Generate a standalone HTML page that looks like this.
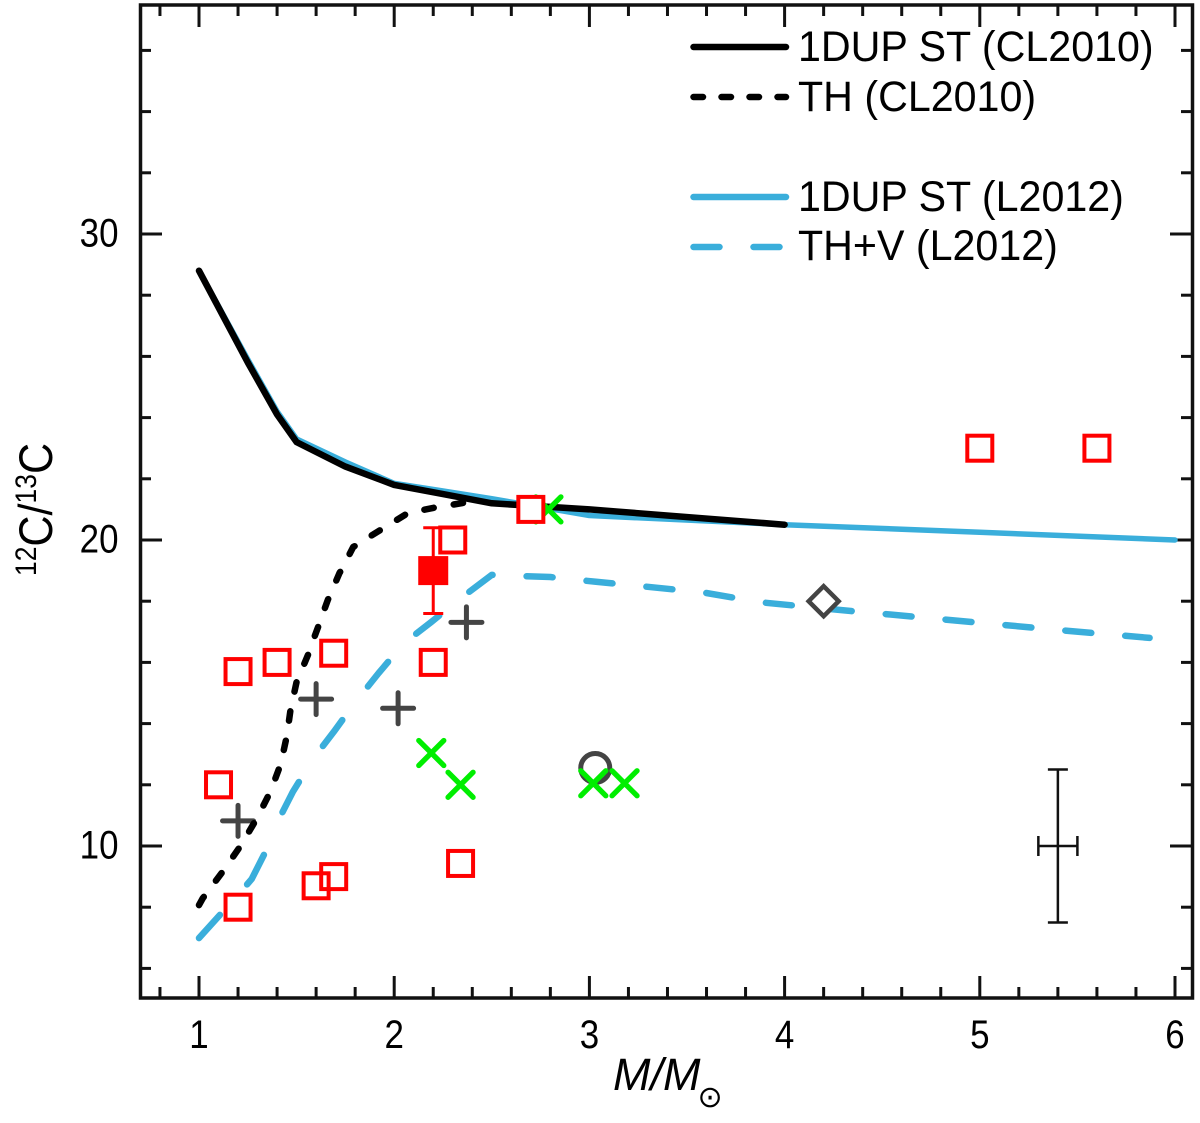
<!DOCTYPE html>
<html lang="en">
<head>
<meta charset="utf-8">
<title>12C/13C versus stellar mass</title>
<style>
html,body{margin:0;padding:0;background:#fff;width:1200px;height:1123px;overflow:hidden}
svg{display:block}
text{font-family:"Liberation Sans",sans-serif;fill:#000}
</style>
</head>
<body>
<svg id="chart" xmlns="http://www.w3.org/2000/svg" width="1200" height="1123" viewBox="0 0 1200 1123">
  <g id="ticks"></g>
  <g id="plusLayer"></g>
  <g id="series"></g>
  <g id="markers"></g>
  <rect x="140.5" y="5" width="1052" height="993" fill="none" stroke="#111" stroke-width="3.5"/>
  <g id="xlabels" font-size="36" text-anchor="middle"></g>
  <g id="ylabels" font-size="36" text-anchor="end"></g>
  <text x="613" y="1090" font-size="45" font-style="italic">M/M</text>
  <text x="697.5" y="1107" font-size="30" style="font-family:'DejaVu Sans',sans-serif">⊙</text>
  <text transform="translate(52,576) rotate(-90) scale(0.98,1.08)" font-size="44"><tspan font-size="27" dy="-15">12</tspan><tspan dy="15">C/</tspan><tspan font-size="27" dy="-15">13</tspan><tspan dy="15">C</tspan></text>
  <g>
    <line x1="693.5" y1="47" x2="786" y2="47" stroke="#000" stroke-width="6.5" stroke-linecap="round"/>
    <text transform="translate(798,61) scale(1.005,1.05)" font-size="41">1DUP ST (CL2010)</text>
    <line x1="693.5" y1="97" x2="786" y2="97" stroke="#000" stroke-width="6.5" stroke-linecap="round" stroke-dasharray="9.5 18.5"/>
    <text transform="translate(798,111) scale(1.005,1.05)" font-size="41">TH (CL2010)</text>
    <line x1="693.5" y1="197" x2="786" y2="197" stroke="#3aaedb" stroke-width="6.5" stroke-linecap="round"/>
    <text transform="translate(798,211) scale(1.005,1.05)" font-size="41">1DUP ST (L2012)</text>
    <line x1="693.5" y1="247" x2="780" y2="247" stroke="#3aaedb" stroke-width="6.5" stroke-linecap="round" stroke-dasharray="26 34"/>
    <text transform="translate(798,260) scale(1.005,1.05)" font-size="41">TH+V (L2012)</text>
  </g>
</svg>
<script>
const xTickLabels = [1, 2, 3, 4, 5, 6];
const yTickLabels = [10, 20, 30];
const xMinorTicks = [0.8, 1.2, 1.4, 1.6, 1.8, 2.2, 2.4, 2.6, 2.8, 3.2, 3.4, 3.6, 3.8, 4.2, 4.4, 4.6, 4.8, 5.2, 5.4, 5.6, 5.8];
const yMinorTicks = [6, 8, 12, 14, 16, 18, 22, 24, 26, 28, 32, 34, 36];

const st2010Mass = [1, 1.25, 1.4, 1.5, 1.75, 2, 2.25, 2.5, 3, 4];
const st2010Ratio = [28.8, 25.8, 24.1, 23.2, 22.4, 21.8, 21.5, 21.2, 21, 20.5];
const st2012Mass = [1, 1.25, 1.4, 1.5, 1.75, 2, 2.25, 2.5, 3, 4, 5, 6];
const st2012Ratio = [28.8, 25.9, 24.2, 23.3, 22.55, 21.85, 21.6, 21.35, 20.8, 20.5, 20.25, 20];
const th2010Mass = [1, 1.02, 1.12, 1.22, 1.3, 1.37, 1.42, 1.45, 1.47, 1.5, 1.56, 1.61, 1.66, 1.72, 1.79, 1.93, 2.07, 2.2, 2.35, 2.38];
const th2010Ratio = [8.07, 8.3, 9.15, 10.07, 10.95, 11.83, 12.71, 13.6, 14.5, 15.36, 16.27, 17.16, 18.04, 18.92, 19.77, 20.33, 20.88, 21.05, 21.21, 21.24];
const thv2012Mass = [1, 1.12, 1.2, 1.27, 1.34, 1.41, 1.48, 1.58, 1.69, 1.81, 1.92, 2.05, 2.19, 2.35, 2.5, 2.65, 2.8, 3.04, 3.57, 3.87, 4.34, 4.79, 5.4, 5.87];
const thv2012Ratio = [6.99, 7.84, 8.4, 8.92, 9.8, 10.88, 11.76, 12.81, 13.73, 14.77, 15.65, 16.63, 17.32, 18.14, 18.86, 18.82, 18.79, 18.63, 18.3, 17.97, 17.68, 17.42, 17.06, 16.8];

const squareMass = [1.1, 1.2, 1.4, 1.69, 2.2, 2.3, 2.7, 5, 5.6, 1.2, 1.6, 1.69, 2.34];
const squareRatio = [12, 15.7, 16, 16.3, 16, 20, 21, 23, 23, 8, 8.7, 9, 9.43];
const plusMass = [1.2, 1.6, 2.02, 2.37];
const plusRatio = [10.82, 14.8, 14.5, 17.31];
const crossMass = [2.79, 2.19, 2.34, 3.02, 3.18];
const crossRatio = [21, 13.04, 12, 12.05, 12.05];
const filledMass = [2.2];
const filledRatio = [19];
const filledErrLow = [17.6];
const filledErrHigh = [20.4];
const circleMass = [3.03];
const circleRatio = [12.55];
const diamondMass = [4.2];
const diamondRatio = [18];
const typicalMass = [5.4];
const typicalRatio = [10];
const typicalMassErr = [0.1];
const typicalRatioErr = [2.5];

const xScale = v => 199 + (v - 1) * 195.2;
const yScale = v => 846 - (v - 10) * 30.6;
const NS = 'http://www.w3.org/2000/svg';
const TOP = 5, BOTTOM = 998, LEFT = 140, RIGHT = 1192;

function mk(parent, tag, attrs) {
  const el = document.createElementNS(NS, tag);
  for (const k in attrs) el.setAttribute(k, attrs[k]);
  parent.appendChild(el);
  return el;
}
const ticks = document.getElementById('ticks');
const plusLayer = document.getElementById('plusLayer');
const seriesG = document.getElementById('series');
const markers = document.getElementById('markers');
const xlabels = document.getElementById('xlabels');
const ylabels = document.getElementById('ylabels');
const tickStyle = {stroke: '#111', 'stroke-width': 3};

function xTick(v, len) {
  const x = xScale(v);
  const a = mk(ticks, 'line', {x1: x, x2: x, y1: BOTTOM, y2: BOTTOM - len, ...tickStyle});
  
  
  const b = mk(ticks, 'line', {x1: x, x2: x, y1: TOP, y2: TOP + len, ...tickStyle});
  
  
}
function yTick(v, len) {
  const y = yScale(v);
  const a = mk(ticks, 'line', {x1: LEFT, x2: LEFT + len, y1: y, y2: y, ...tickStyle});
  
  
  const b = mk(ticks, 'line', {x1: RIGHT, x2: RIGHT - len, y1: y, y2: y, ...tickStyle});
  
  
}
xMinorTicks.forEach(v => xTick(v, 11));
yMinorTicks.forEach(v => yTick(v, 11));
xTickLabels.forEach(v => {
  xTick(v, 22);
  const t = mk(xlabels, 'text', {transform: `translate(${xScale(v)},1048) scale(0.97,1.1)`});
  
  
  t.textContent = v;
});
yTickLabels.forEach(v => {
  yTick(v, 22);
  const t = mk(ylabels, 'text', {transform: `translate(118.5,${yScale(v) + 12.5}) scale(0.97,1.1)`});
  
  
  t.textContent = v;
});

function pts(xs, ys) {
  return xs.map((x, i) => xScale(x).toFixed(1) + ',' + yScale(ys[i]).toFixed(1)).join(' ');
}
// Walks the curve and emits one sub-path per dash; vertical distance is weighted by yWeight.
function dashedPath(xs, ys, dash, gap, yWeight) {
  const P = xs.map((x, i) => [xScale(x), yScale(ys[i])]);
  let d = '', on = true, left = dash;
  d += 'M' + P[0][0].toFixed(1) + ' ' + P[0][1].toFixed(1);
  for (let i = 1; i < P.length; i++) {
    const ax = P[i - 1][0], ay = P[i - 1][1], dx = P[i][0] - ax, dy = P[i][1] - ay;
    const len = Math.hypot(dx, dy / yWeight);
    let pos = 0;
    while (len - pos > left) {
      pos += left;
      const x = (ax + dx * pos / len).toFixed(1), y = (ay + dy * pos / len).toFixed(1);
      d += (on ? 'L' : 'M') + x + ' ' + y;
      on = !on;
      left = on ? dash : gap;
    }
    left -= len - pos;
    if (on) d += 'L' + P[i][0].toFixed(1) + ' ' + P[i][1].toFixed(1);
  }
  return d;
}
const base = {fill: 'none', 'stroke-linecap': 'round', 'stroke-linejoin': 'round'};
const c1 = mk(seriesG, 'polyline', {...base, points: pts(st2012Mass, st2012Ratio), stroke: '#3aaedb', 'stroke-width': 5.5});


const c2 = mk(seriesG, 'path', {...base, d: dashedPath(thv2012Mass, thv2012Ratio, 26, 34, 1.5), stroke: '#3aaedb', 'stroke-width': 6.5});


const c3 = mk(seriesG, 'path', {...base, d: dashedPath(th2010Mass, th2010Ratio, 9.5, 20.2, 1), stroke: '#000', 'stroke-width': 6.5});


const c4 = mk(seriesG, 'polyline', {...base, points: pts(st2010Mass, st2010Ratio), stroke: '#000', 'stroke-width': 6.5});



plusMass.forEach((m, i) => {
  const x = xScale(m), y = yScale(plusRatio[i]), r = 15.5;
  const p = mk(plusLayer, 'path', {d: `M${x - r} ${y}H${x + r}M${x} ${y - r}V${y + r}`, stroke: '#444', 'stroke-width': 5, 'stroke-linecap': 'round', fill: 'none'});
  
  
});
circleMass.forEach((m, i) => {
  const c = mk(markers, 'circle', {cx: xScale(m), cy: yScale(circleRatio[i]), r: 14.5, fill: 'none', stroke: '#444', 'stroke-width': 5});
  
  
});
diamondMass.forEach((m, i) => {
  const x = xScale(m), y = yScale(diamondRatio[i]), r = 15;
  const d = mk(markers, 'path', {d: `M${x} ${y - r}L${x + r} ${y}L${x} ${y + r}L${x - r} ${y}Z`, fill: '#fff', stroke: '#444', 'stroke-width': 4.5});
  
  
});
crossMass.forEach((m, i) => {
  const x = xScale(m), y = yScale(crossRatio[i]), r = 12.5;
  const p = mk(markers, 'path', {d: `M${x - r} ${y - r}L${x + r} ${y + r}M${x + r} ${y - r}L${x - r} ${y + r}`, stroke: '#00ee00', 'stroke-width': 5.3, 'stroke-linecap': 'round', fill: 'none'});
  
  
});
filledMass.forEach((m, i) => {
  const x = xScale(m), yl = yScale(filledErrLow[i]), yh = yScale(filledErrHigh[i]);
  const e = mk(markers, 'path', {d: `M${x} ${yl}V${yh}M${x - 10} ${yl}H${x + 10}M${x - 10} ${yh}H${x + 10}`, stroke: '#f00', 'stroke-width': 3, fill: 'none'});
  
  
});
const squareSide = 25;
squareMass.forEach((m, i) => {
  const x = xScale(m), y = yScale(squareRatio[i]);
  const r = mk(markers, 'rect', {x: x - squareSide / 2, y: y - squareSide / 2, width: squareSide, height: squareSide, fill: '#fff'});
  
  
});
squareMass.forEach((m, i) => {
  const x = xScale(m), y = yScale(squareRatio[i]);
  const r = mk(markers, 'rect', {x: x - squareSide / 2, y: y - squareSide / 2, width: squareSide, height: squareSide, fill: 'none', stroke: '#f00', 'stroke-width': 4});
  
  
});
filledMass.forEach((m, i) => {
  const x = xScale(m), y = yScale(filledRatio[i]);
  const r = mk(markers, 'rect', {x: x - 15, y: y - 14.5, width: 30, height: 29, fill: '#f00'});
  
  
});
typicalMass.forEach((m, i) => {
  const x = xScale(m), y = yScale(typicalRatio[i]);
  const x0 = xScale(m - typicalMassErr[i]), x1 = xScale(m + typicalMassErr[i]);
  const y0 = yScale(typicalRatio[i] - typicalRatioErr[i]), y1 = yScale(typicalRatio[i] + typicalRatioErr[i]);
  const e = mk(markers, 'path', {d: `M${x0} ${y}H${x1}M${x0} ${y - 10}V${y + 10}M${x1} ${y - 10}V${y + 10}M${x} ${y0}V${y1}M${x - 10} ${y0}H${x + 10}M${x - 10} ${y1}H${x + 10}`, stroke: '#111', 'stroke-width': 2.5, fill: 'none'});
  
  
});
</script>
</body>
</html>
